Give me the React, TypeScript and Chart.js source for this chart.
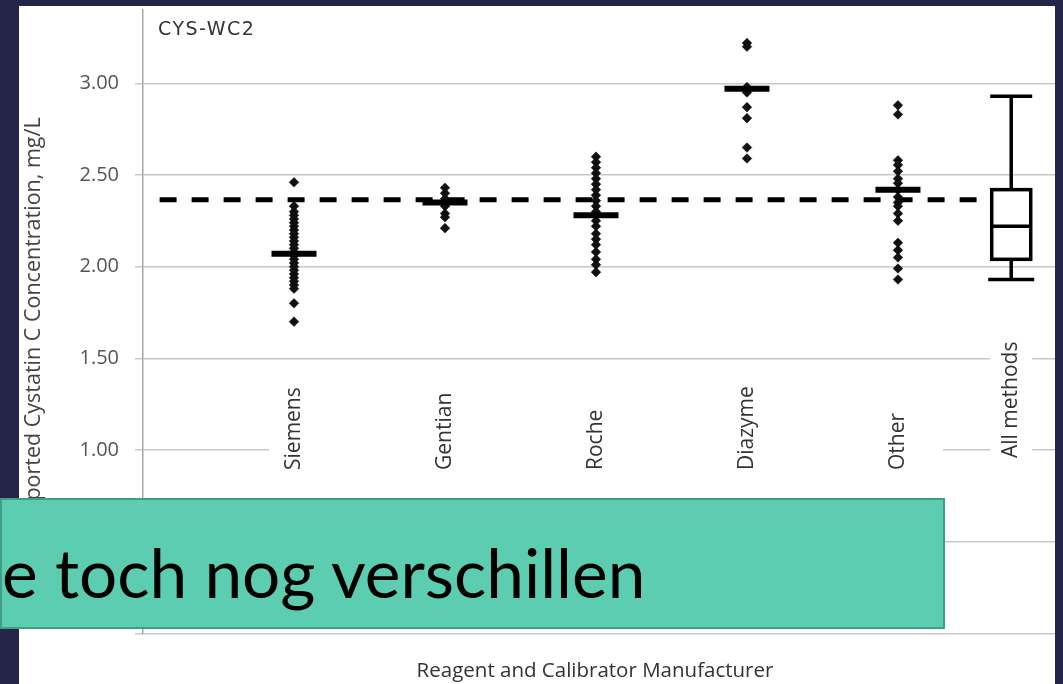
import React, { useEffect, useRef } from "react";
import { Chart, registerables } from "chart.js";

Chart.register(...registerables);

// ---------- data ----------
const categories = ["Siemens", "Gentian", "Roche", "Diazyme", "Other", "All methods"];

const siemensValues = [2.46, 2.33, 2.3, 2.28, 2.26, 2.24, 2.22, 2.2, 2.18, 2.16, 2.14, 2.12, 2.1, 2.08, 2.06, 2.04, 2.02, 2.0, 1.98, 1.96, 1.94, 1.92, 1.9, 1.88, 1.8, 1.7];
const gentianValues = [2.43, 2.4, 2.37, 2.35, 2.33, 2.29, 2.27, 2.21];
const rocheValues = [2.6, 2.57, 2.54, 2.51, 2.48, 2.45, 2.42, 2.39, 2.36, 2.33, 2.3, 2.28, 2.25, 2.22, 2.18, 2.15, 2.12, 2.08, 2.04, 2.01, 1.97];
const diazymeValues = [3.22, 3.2, 2.98, 2.95, 2.87, 2.81, 2.65, 2.59];
const otherValues = [2.88, 2.83, 2.58, 2.555, 2.52, 2.48, 2.455, 2.42, 2.38, 2.35, 2.33, 2.29, 2.25, 2.13, 2.09, 2.05, 1.99, 1.93];

const groupMedians = [2.07, 2.35, 2.28, 2.97, 2.42];

// All methods box plot: [lower whisker, Q1, median, Q3, upper whisker]
const allMethodsBox = [1.93, 2.04, 2.22, 2.42, 2.93];

const referenceValue = 2.365;

const yTickValues = [0, 0.5, 1.0, 1.5, 2.0, 2.5, 3.0];

const chartTitle = "CYS-WC2";
const yAxisTitle = "Reported Cystatin C Concentration, mg/L";
const xAxisTitle = "Reagent and Calibrator Manufacturer";
const overlayText = "e toch nog verschillen";

// ---------- layout (positions of categories on the linear x scale) ----------
const categoryX = [1, 2, 3, 4, 5, 5.75];
const X_MIN = 0;
const X_MAX = 6.04;
const Y_MIN = 0;
const Y_MAX = 3.4;

const groups = [siemensValues, gentianValues, rocheValues, diazymeValues, otherValues];

const FONT = '"Open Sans", sans-serif';

const overlayPlugin = {
  id: "overlayPlugin",
  beforeDatasetsDraw(chart: any) {
    const { ctx, scales } = chart;
    const x = scales.x;
    const y = scales.y;
    ctx.save();
    // white band behind category labels
    const y1 = y.getPixelForValue(1.0);
    ctx.fillStyle = "#ffffff";
    const bandLeft = x.getPixelForValue(categoryX[0]) - 25;
    const bandRight = x.getPixelForValue(categoryX[4]) + 45;
    ctx.fillRect(bandLeft, y1 - 72, bandRight - bandLeft, 100);
    const amX = x.getPixelForValue(categoryX[5]);
    ctx.fillRect(amX - 21, y1 - 118, 42, 132);

    ctx.font = `21px ${FONT}`;
    ctx.fillStyle = "#333333";
    ctx.textAlign = "left";
    ctx.textBaseline = "middle";
    categories.forEach((c, i) => {
      const px = x.getPixelForValue(categoryX[i]);
      const bottom = y1 + (i === 5 ? 8 : 20);
      ctx.save();
      ctx.translate(px, bottom);
      ctx.rotate(-Math.PI / 2);
      ctx.fillText(c, 0, 0);
      ctx.restore();
    });

    // chart title
    ctx.font = `19px "DejaVu Sans", sans-serif`;
    try {
      (ctx as any).letterSpacing = "1.5px";
    } catch (e) {}
    ctx.fillStyle = "#333333";
    ctx.textBaseline = "alphabetic";
    ctx.fillText(chartTitle, chart.chartArea.left + 15, 29);
    try {
      (ctx as any).letterSpacing = "0px";
    } catch (e) {}

    // x axis title
    ctx.font = `20.5px ${FONT}`;
    ctx.textAlign = "center";
    ctx.fillText(xAxisTitle, 576, 671);
    ctx.restore();
  },
  afterDatasetsDraw(chart: any) {
    const { ctx, scales } = chart;
    const x = scales.x;
    const y = scales.y;
    const cx = x.getPixelForValue(categoryX[5]);
    const [lo, q1, med, q3, hi] = allMethodsBox.map((v) => y.getPixelForValue(v));
    const half = 19.5;
    const capHalf = 23;
    ctx.save();
    ctx.strokeStyle = "#000";
    ctx.lineWidth = 3.5;
    ctx.lineCap = "butt";
    ctx.beginPath();
    ctx.moveTo(cx, q3);
    ctx.lineTo(cx, hi);
    ctx.moveTo(cx - capHalf + 2, hi);
    ctx.lineTo(cx + capHalf - 2, hi);
    ctx.moveTo(cx, q1);
    ctx.lineTo(cx, lo);
    ctx.moveTo(cx - capHalf, lo);
    ctx.lineTo(cx + capHalf, lo);
    ctx.stroke();
    ctx.fillStyle = "#fff";
    ctx.fillRect(cx - half, q3, half * 2, q1 - q3);
    ctx.strokeRect(cx - half, q3, half * 2, q1 - q3);
    ctx.beginPath();
    ctx.moveTo(cx - half, med);
    ctx.lineTo(cx + half, med);
    ctx.stroke();
    ctx.restore();
  },
};

export default function App() {
  const canvasRef = useRef<HTMLCanvasElement>(null);

  useEffect(() => {
    document.body.style.margin = "0";
    const canvas = canvasRef.current;
    if (!canvas) return;

    const pointSets = groups.map((vals, gi) => ({
      type: "scatter" as const,
      data: vals.map((v) => ({ x: categoryX[gi], y: v })),
      pointStyle: "rectRot",
      pointRadius: 4.8,
      backgroundColor: "#111111",
      borderColor: "rgba(0,0,0,0.5)",
      borderWidth: 1,
      order: 2,
    }));

    const chart = new Chart(canvas, {
      type: "scatter",
      data: {
        datasets: [
          {
            type: "line",
            data: [
              { x: 0.11, y: referenceValue },
              { x: 5.6, y: referenceValue },
            ],
            borderColor: "#000",
            borderWidth: 5,
            borderDash: [17, 15],
            pointRadius: 0,
            order: 3,
          } as any,
          ...pointSets,
          {
            type: "scatter",
            data: groupMedians.map((m, i) => ({ x: categoryX[i], y: m })),
            pointStyle: "line",
            pointRadius: 22.5,
            borderColor: "#000",
            borderWidth: 6,
            order: 1,
          } as any,
        ],
      },
      options: {
        responsive: false,
        devicePixelRatio: 1,
        animation: false,
        layout: { autoPadding: false, padding: { top: 4, right: 0, bottom: 50.7, left: 0 } },
        plugins: {
          legend: { display: false },
          tooltip: { enabled: false },
          title: { display: false },
        },
        scales: {
          x: {
            type: "linear",
            min: X_MIN,
            max: X_MAX,
            display: false,
          },
          y: {
            type: "linear",
            min: Y_MIN,
            max: Y_MAX,
            afterFit: (s: any) => {
              s.width = 124;
              s.paddingTop = 0;
              s.paddingBottom = 0;
            },
            afterBuildTicks: (axis: any) => {
              axis.ticks = yTickValues.map((v) => ({ value: v }));
            },
            ticks: {
              padding: 16,
              color: "#555555",
              font: { family: FONT, size: 20 },
              callback: (v: any) => (Number(v) === 0 ? "" : Number(v).toFixed(2)),
            },
            grid: {
              color: "#c8c8c8",
              lineWidth: 1.5,
              tickLength: 8,
              drawTicks: true,
            },
            border: { display: true, color: "#a8a8a8", width: 1.5 },
            title: {
              display: true,
              text: yAxisTitle,
              color: "#444444",
              font: { family: FONT, size: 21.5 },
              padding: { top: 2, bottom: 0 },
            },
          },
        },
      },
      plugins: [overlayPlugin],
    } as any);

    return () => chart.destroy();
  }, []);

  return (
    <div
      style={{
        position: "relative",
        width: 1063,
        height: 684,
        background: "#232649",
        overflow: "hidden",
      }}
    >
      <div
        style={{
          position: "absolute",
          left: 19,
          top: 6,
          width: 1036,
          height: 678,
          background: "#ffffff",
          overflow: "hidden",
        }}
      >
        <canvas
          ref={canvasRef}
          width={1036}
          height={678}
          style={{ display: "block", width: 1036, height: 678 }}
        />
      </div>
      <div
        style={{
          position: "absolute",
          left: 0,
          top: 498,
          width: 941,
          height: 127,
          background: "#5ccdb0",
          border: "2px solid #3f9f86",
          overflow: "hidden",
        }}
      >
        <span
          style={{
            position: "absolute",
            left: 0,
            top: 38,
            fontFamily: "Lato, sans-serif",
            fontSize: 67.5,
            lineHeight: 1,
            color: "#000",
            whiteSpace: "nowrap",
          }}
        >
          {overlayText}
        </span>
      </div>
    </div>
  );
}
